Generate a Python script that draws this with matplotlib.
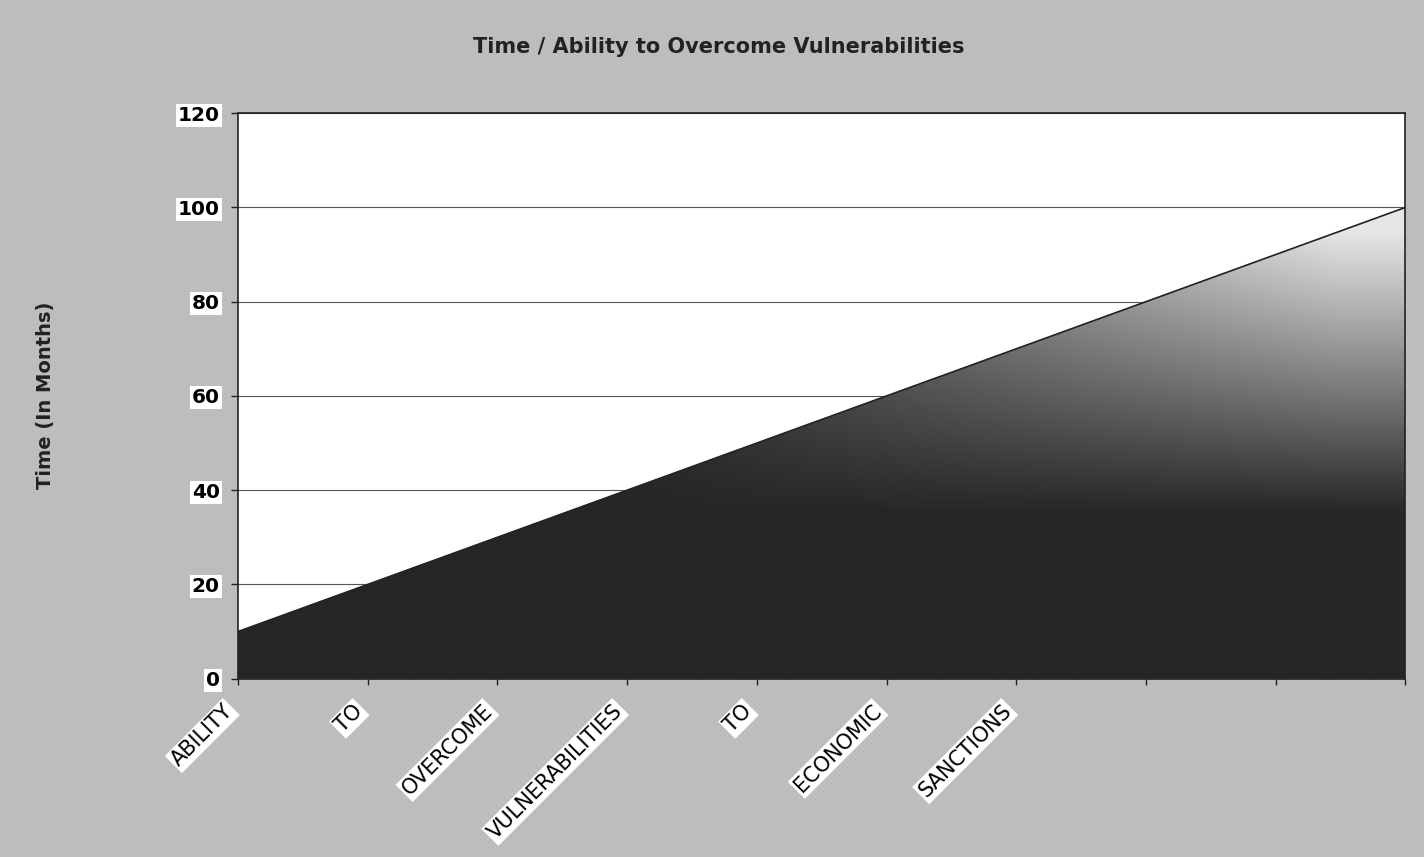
import numpy as np
import matplotlib.pyplot as plt
import matplotlib.transforms as mtransforms
from matplotlib.colors import LinearSegmentedColormap

# chart data
categories = ["ABILITY", "TO", "OVERCOME", "VULNERABILITIES", "TO",
              "ECONOMIC", "SANCTIONS", "", "", ""]
months = [10, 20, 30, 40, 50, 60, 70, 80, 90, 100]
y_ticks = [0, 20, 40, 60, 80, 100, 120]

plt.rcParams["font.family"] = ["DejaVu Sans"]

fig = plt.figure(figsize=(14.24, 8.57), dpi=100, facecolor="#bdbdbd")
ax = fig.add_axes([0.167, 0.208, 0.820, 0.660])
ax.set_facecolor("white")

x = np.arange(len(categories))
poly = ax.fill_between(x, months, 0, color="none", lw=0, zorder=2)

# gradient fill: dark at the bottom-left, lighter toward the top-right
gx, gy = np.meshgrid(np.linspace(0, len(x) - 1, 300), np.linspace(0, 120, 300))
shade = np.clip((gy - 35) / 60, 0, 1) * np.clip((gx - 3) / 5.5, 0, 1) ** 0.7
cmap = LinearSegmentedColormap.from_list("fade", ["#262626", "#e6e6e6"])
img = ax.imshow(shade, extent=[0, len(x) - 1, 0, 120], origin="lower",
                aspect="auto", cmap=cmap, vmin=0, vmax=1, zorder=2)
img.set_clip_path(poly.get_paths()[0], transform=ax.transData)

ax.plot(x, months, color="#222222", lw=1.2, zorder=3)

ax.set_xlim(0, len(x) - 1)
ax.set_ylim(0, 120)
ax.set_yticks(y_ticks)
ax.yaxis.grid(True, color="#555555", lw=0.8, zorder=1)
ax.set_axisbelow(True)
for s in ax.spines.values():
    s.set_color("#222222")
    s.set_linewidth(1.2)

ax.set_yticklabels([str(v) for v in y_ticks], fontsize=14.5, fontweight="bold")
for lab in ax.get_yticklabels():
    lab.set_bbox(dict(facecolor="white", edgecolor="none", pad=1.5))
ax.tick_params(axis="y", length=5, width=1, color="#222222", pad=8)

ax.set_xticks(x)
ax.tick_params(axis="x", length=4, width=1, color="#222222", pad=12)
ax.set_xticklabels(categories, rotation=45, ha="right", rotation_mode="anchor", fontsize=15)
# labels sit a little left of their tick, like the original
shift = mtransforms.ScaledTranslation(-0.15, 0, fig.dpi_scale_trans)
for lab in ax.get_xticklabels():
    lab.set_transform(lab.get_transform() + shift)
    if lab.get_text():
        lab.set_bbox(dict(facecolor="white", edgecolor="none", pad=1.5))

fig.text(0.032, 0.539, "Time (In Months)", rotation=90, ha="center", va="center",
         fontsize=14, fontweight="bold", color="#222222")
fig.text(0.505, 0.945, "Time / Ability to Overcome Vulnerabilities",
         ha="center", va="center", fontsize=15, fontweight="bold", color="#222222")

fig.savefig("out.png", dpi=100, facecolor=fig.get_facecolor())
